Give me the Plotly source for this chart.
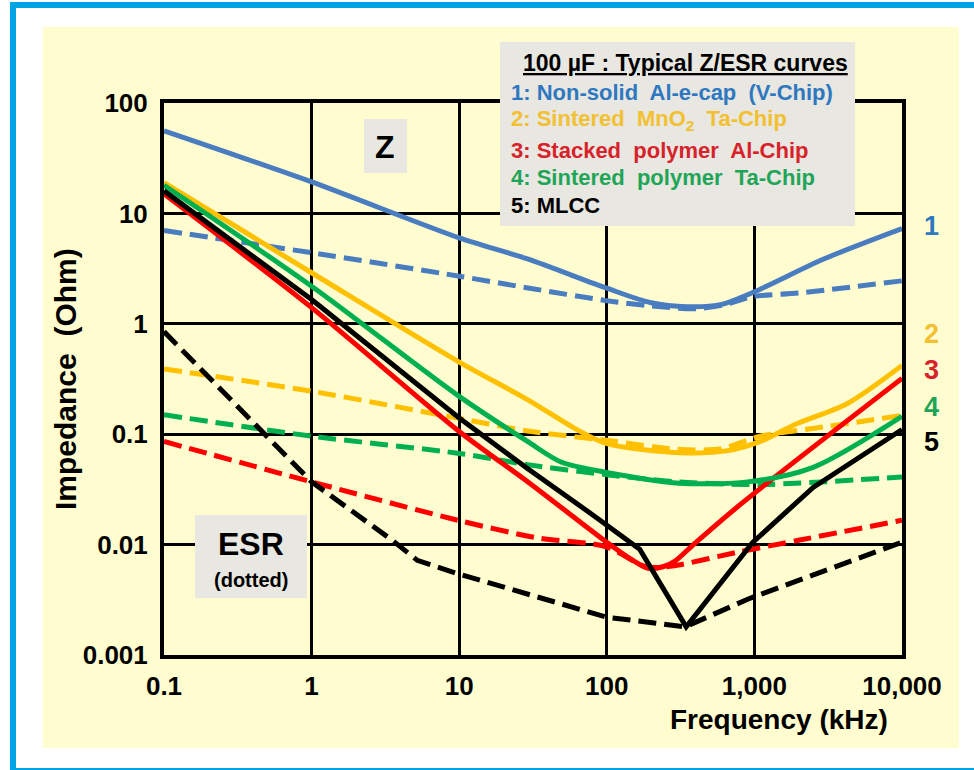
import plotly.graph_objects as go

# ---------------------------------------------------------------
# Typical impedance (Z, solid) and ESR (dashed) of 100 uF capacitors
# frequencies in kHz, values in Ohm
# ---------------------------------------------------------------

# 1: Non-solid Al-e-cap (V-Chip)
f_z1 = [0.1, 1, 10, 29, 100, 200, 350, 600, 1000, 3000, 10000]
z1 = [56, 19.3, 6.0, 3.87, 2.1, 1.55, 1.43, 1.5, 1.95, 3.9, 7.3]
f_esr1 = [0.1, 1, 10, 30, 100, 200, 400, 600, 1000, 2000, 10000]
esr1 = [7.0, 4.4, 2.7, 2.1, 1.62, 1.45, 1.37, 1.47, 1.77, 1.9, 2.45]

# 2: Sintered MnO2 Ta-Chip
f_z2 = [0.1, 1, 10, 29, 62, 100, 310, 660, 1120, 1900, 4270, 10000]
z2 = [19, 2.9, 0.45, 0.206, 0.111, 0.082, 0.068, 0.071, 0.087, 0.123, 0.19, 0.42]
f_esr2 = [0.1, 1, 10, 29, 100, 300, 600, 1100, 3200, 10000]
esr2 = [0.39, 0.245, 0.139, 0.107, 0.088, 0.073, 0.074, 0.096, 0.118, 0.148]

# 3: Stacked polymer Al-Chip
f_z3 = [0.1, 1, 10, 30, 100, 150, 190, 240, 290, 380, 800, 10000]
z3 = [15, 1.4, 0.106, 0.036, 0.0105, 0.0072, 0.0061, 0.0063, 0.0071, 0.0098, 0.023, 0.32]
f_esr3 = [0.1, 1, 10, 34, 98, 186, 277, 790, 2030, 10000]
esr3 = [0.086, 0.037, 0.0165, 0.0115, 0.0096, 0.0063, 0.0064, 0.0086, 0.011, 0.0166]

# 4: Sintered polymer Ta-Chip
f_z4 = [0.1, 1, 10, 29, 49, 100, 310, 900, 2500, 10000]
z4 = [18, 2.19, 0.22, 0.086, 0.056, 0.045, 0.036, 0.037, 0.05, 0.145]
f_esr4 = [0.1, 1, 10, 29, 100, 300, 1100, 10000]
esr4 = [0.15, 0.096, 0.067, 0.053, 0.043, 0.037, 0.035, 0.041]

# 5: MLCC
f_z5 = [0.1, 1, 10, 29, 83, 167, 345, 420, 970, 2500, 10000]
z5 = [16, 1.66, 0.14, 0.049, 0.018, 0.0091, 0.0018, 0.0025, 0.0104, 0.033, 0.11]
f_esr5 = [0.1, 1, 3.5, 5.2, 10, 30, 100, 340, 900, 10000]
esr5 = [0.85, 0.037, 0.011, 0.0072, 0.0054, 0.0035, 0.0022, 0.0018, 0.0032, 0.0105]

x_tickvals = [0.1, 1, 10, 100, 1000, 10000]
x_ticktext = ["0.1", "1", "10", "100", "1,000", "10,000"]
y_tickvals = [0.001, 0.01, 0.1, 1, 10, 100]
y_ticktext = ["0.001", "0.01", "0.1", "1", "10", "100"]

legend_title = "100 µF : Typical Z/ESR curves"
legend_lines = [
    "1: Non-solid  Al-e-cap  (V-Chip)",
    "2: Sintered  MnO<sub>2</sub>  Ta-Chip",
    "3: Stacked  polymer  Al-Chip",
    "4: Sintered  polymer  Ta-Chip",
    "5: MLCC",
]
curve_ids = ["1", "2", "3", "4", "5"]

line_colors = ["#4A7CC0", "#FFC000", "#FF0000", "#00B050", "#000000"]
text_colors = ["#2E78C0", "#F2C030", "#D8222A", "#1FA557", "#000000"]

FONT = "Liberation Sans, Arial, sans-serif"
W, H = 974, 770
L, R, T, B = 164, 72, 103, 115
PW, PH = W - L - R, H - T - B


def px(x):
    return (x - L) / PW


def py(y):
    return (H - B - y) / PH


fig = go.Figure()

series = [
    (f_z1, z1, f_esr1, esr1),
    (f_z2, z2, f_esr2, esr2),
    (f_z3, z3, f_esr3, esr3),
    (f_z4, z4, f_esr4, esr4),
    (f_z5, z5, f_esr5, esr5),
]

for i, (fz, z, fe, e) in enumerate(series):
    shape = "linear" if i == 4 else "spline"
    fig.add_trace(go.Scatter(
        x=fe, y=e, mode="lines",
        line=dict(color=line_colors[i], width=5, dash="18px,8px", shape=shape, smoothing=0.8),
        hoverinfo="skip",
    ))
for i, (fz, z, fe, e) in enumerate(series):
    shape = "linear" if i == 4 else "spline"
    fig.add_trace(go.Scatter(
        x=fz, y=z, mode="lines",
        line=dict(color=line_colors[i], width=5, shape=shape, smoothing=0.8),
        hoverinfo="skip",
    ))

BLUE = "#00A3E4"
shapes = [
    # page background
    dict(type="rect", xref="paper", yref="paper", layer="below",
         x0=px(43), x1=px(959), y0=py(748), y1=py(27),
         fillcolor="#FFFDD0", line=dict(width=0)),
    # frame: left, top and bottom edges
    dict(type="line", xref="paper", yref="paper", layer="above",
         x0=px(13), x1=px(13), y0=py(2), y1=py(772), line=dict(color=BLUE, width=6)),
    dict(type="line", xref="paper", yref="paper", layer="above",
         x0=px(10), x1=px(974), y0=py(5), y1=py(5), line=dict(color=BLUE, width=6)),
    dict(type="line", xref="paper", yref="paper", layer="above",
         x0=px(10), x1=px(974), y0=py(769.5), y1=py(769.5), line=dict(color=BLUE, width=3)),
    # legend panel
    dict(type="rect", xref="paper", yref="paper", layer="above",
         x0=px(500), x1=px(855), y0=py(226), y1=py(42),
         fillcolor="#E8E7E1", line=dict(width=0)),
    # "Z" tag
    dict(type="rect", xref="paper", yref="paper", layer="above",
         x0=px(364), x1=px(407), y0=py(173), y1=py(119),
         fillcolor="#E8E7E1", line=dict(width=0)),
    # "ESR" tag
    dict(type="rect", xref="paper", yref="paper", layer="above",
         x0=px(195), x1=px(307), y0=py(598), y1=py(515),
         fillcolor="#E8E7E1", line=dict(width=0)),
]

ann = []


def label(text, x, y, size, color="#000000", xanchor="center", angle=0):
    ann.append(dict(
        text=text, xref="paper", yref="paper", x=px(x), y=py(y),
        xanchor=xanchor, yanchor="middle", showarrow=False, textangle=angle,
        font=dict(family=FONT, size=size, color=color, weight="bold"),
    ))


label("<u>" + legend_title + "</u>", 685, 63, 23)
for i, t in enumerate(legend_lines):
    label(t.replace("  ", "\u00a0 "), 509, [92, 120, 150, 177, 205][i], 22, text_colors[i], xanchor="left")

for i, c in enumerate(curve_ids):
    label(c, 931, [226, 334, 370, 407, 442][i], 27, text_colors[i])

label("Z", 385, 147, 32)
label("ESR", 251, 544, 32)
label("(dotted)", 251, 580, 20)
label("Frequency (kHz)", 779, 719, 28)
label("Impedance\u00a0\u00a0(Ohm)", 65, 379, 30, angle=-90)

axis_common = dict(
    showgrid=True, gridcolor="#000000", gridwidth=2.5,
    showline=True, linecolor="#000000", linewidth=4, mirror=True,
    ticks="", zeroline=False,
    tickfont=dict(family=FONT, size=26, color="#000000", weight="bold"),
)

fig.update_layout(
    width=W, height=H,
    margin=dict(l=L, r=R, t=T, b=B),
    paper_bgcolor="#FFFFFF",
    plot_bgcolor="#FFFDD0",
    showlegend=False,
    shapes=shapes,
    annotations=ann,
    xaxis=dict(type="log", range=[-1, 4], tickvals=x_tickvals, ticktext=x_ticktext,
               ticklabelstandoff=5, **axis_common),
    yaxis=dict(type="log", range=[-3, 2], tickvals=y_tickvals, ticktext=y_ticktext,
               ticklabelstandoff=7, **axis_common),
)

fig.write_html("out.html")
